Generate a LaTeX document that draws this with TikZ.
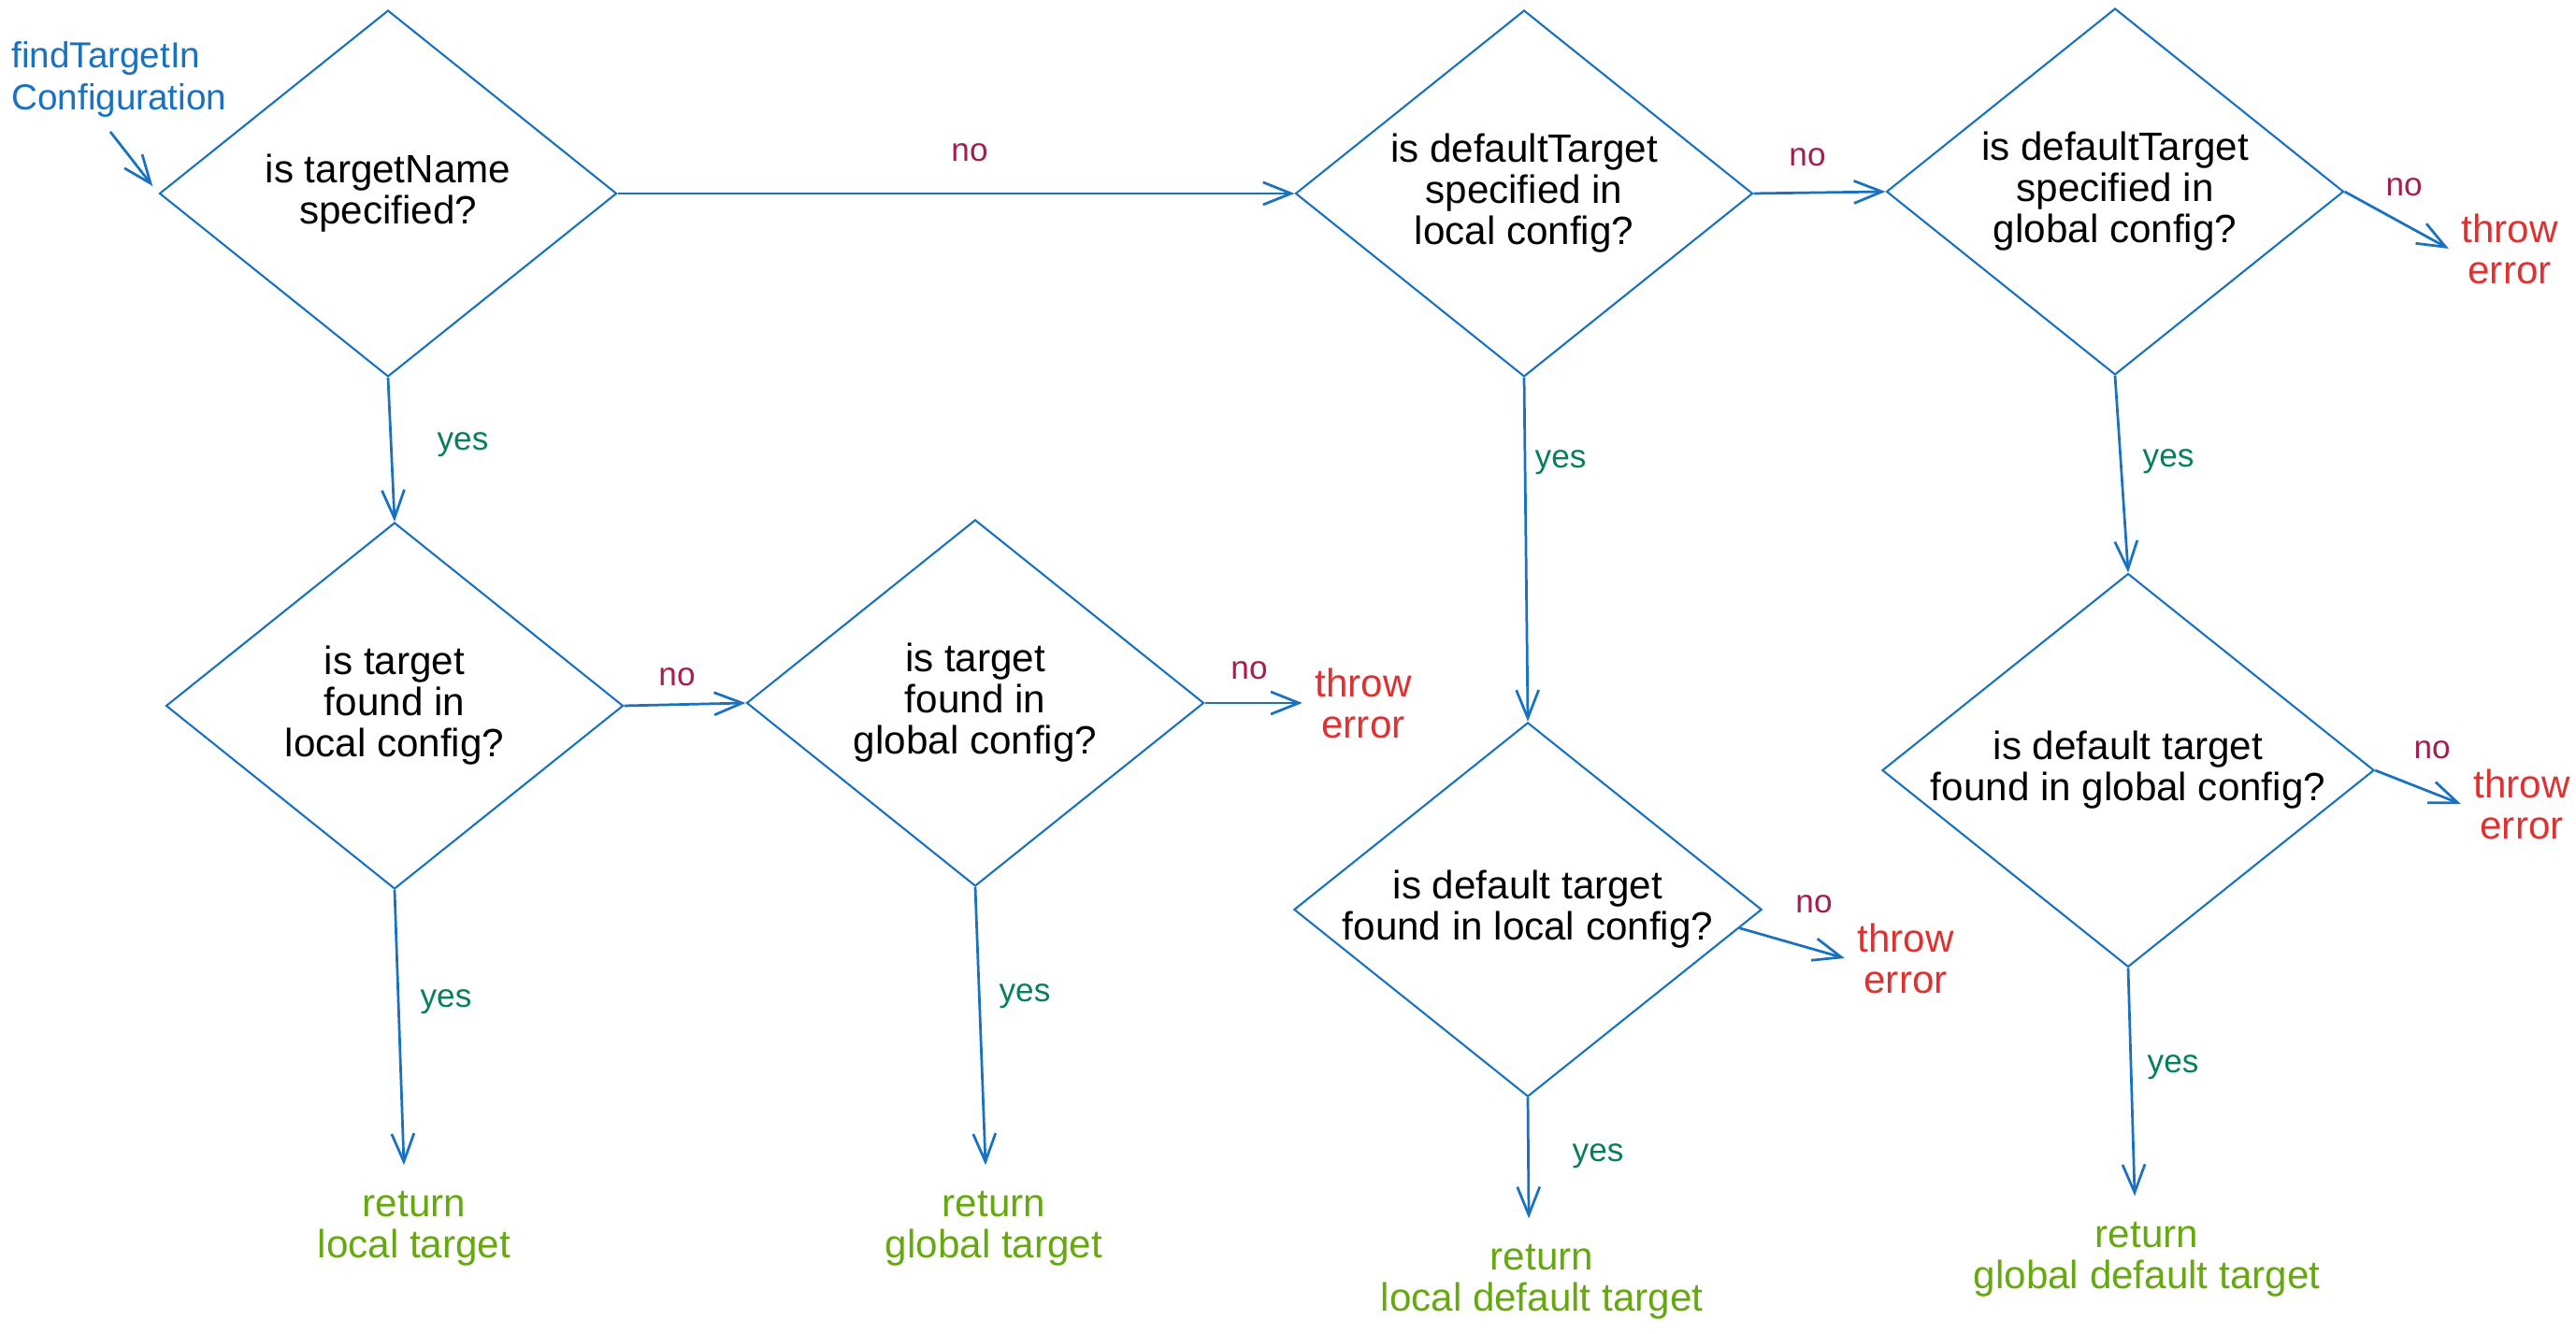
\documentclass[tikz,border=0pt]{standalone}
\usepackage{fontspec}
\setmainfont{Liberation Sans}
\usepackage{tikz}
\usetikzlibrary{arrows.meta}
\usetikzlibrary{shapes.geometric}
\definecolor{flowblue}{HTML}{1971C2}
\definecolor{nored}{HTML}{A61E4D}
\definecolor{errred}{HTML}{E03131}
\definecolor{yesgreen}{HTML}{087F5B}
\definecolor{retgreen}{HTML}{66A80F}

\begin{document}
\begin{tikzpicture}
		[line width=0.78pt,
		> = {Straight Barb[length=3mm,width=2.4mm]},
		decision/.style = {diamond, draw=flowblue, line width=0.6pt, aspect=1.25,
			minimum width=4.89cm, minimum height=3.92cm, inner sep=0pt,
			align=center, font=\fontsize{12}{12.5}\selectfont},
		nolbl/.style = {text=nored, font=\fontsize{10}{12}\selectfont},
		yeslbl/.style = {text=yesgreen, font=\fontsize{10}{12}\selectfont},
		errlbl/.style = {text=errred, align=center, inner sep=3.5pt, font=\fontsize{12}{12.5}\selectfont},
		retlbl/.style = {text=retgreen, align=center, inner sep=7.5pt, font=\fontsize{12}{12.5}\selectfont},
		flow/.style = {->, draw=flowblue}
		]
		\useasboundingbox (0,0) rectangle (27.55,14.27);

		% entry
		\node (start) [anchor=west, inner sep=0pt, align=left, text=flowblue,
			font=\fontsize{11}{12.8}\selectfont] at (0.11,13.42) {findTargetIn\\Configuration};
		\coordinate (s0) at (1.18,12.86);

		% decisions
		\node (D1) [decision] at (4.15,12.20) {is targetName\\specified?};
		\node (D2) [decision] at (4.22,6.72) {is target\\found in\\local config?};
		\node (D3) [decision] at (10.43,6.75) {is target\\found in\\global config?};
		\node (D4) [decision] at (16.30,12.20) {is defaultTarget\\specified in\\local config?};
		\node (D5) [decision] at (22.62,12.22) {is defaultTarget\\specified in\\global config?};
		\node (D6) [decision] at (16.34,4.54) {is default target\\found in local config?};
		\node (D7) [decision] at (22.76,6.03) {is default target\\found in global config?};

		% results
		\node (R1) [retlbl] at (4.43,1.13) {return\\local target};
		\node (R2) [retlbl] at (10.63,1.13) {return\\global target};
		\node (R3) [retlbl] at (16.49,0.56) {return\\local default target};
		\node (R4) [retlbl] at (22.96,0.80) {return\\global default target};

		\node (E1) [errlbl] at (14.58,6.75) {throw\\error};
		\node (E2) [errlbl] at (20.38,4.02) {throw\\error};
		\node (E3) [errlbl] at (26.84,11.61) {throw\\error};
		\node (E4) [errlbl] at (26.97,5.67) {throw\\error};

		% connectors
		\draw[flow, shorten >=1mm] (s0) -- (D1.west);
		\draw[flow] (D1.east) -- (D4.west);
		\draw[flow] (D1.south) -- (D2.north);
		\draw[flow] (D2.east) -- (D3.west);
		\draw[flow] (D2.south) -- ([xshift=-1.1mm]R1.north);
		\draw[flow] (D3.south) -- ([xshift=-0.9mm]R2.north);
		\draw[flow] (D3.east) -- (E1.west);
		\draw[flow] (D4.east) -- (D5.west);
		\draw[flow] (D4.south) -- (D6.north);
		\draw[flow] (D6.-5) -- (E2.west);
		\draw[flow] (D6.south) -- ([xshift=-1.4mm]R3.north);
		\draw[flow] (D5.east) -- (E3.west);
		\draw[flow] (D5.south) -- (D7.north);
		\draw[flow] (D7.east) -- (E4.west);
		\draw[flow] (D7.south) -- ([xshift=-1.3mm]R4.north);

		% labels
		\node (n1) [nolbl] at (10.37,12.64) {no};
		\node (n2) [nolbl] at (19.33,12.59) {no};
		\node (n3) [nolbl] at (25.71,12.27) {no};
		\node (n4) [nolbl] at (7.24,7.03) {no};
		\node (n5) [nolbl] at (13.36,7.10) {no};
		\node (n6) [nolbl] at (19.40,4.60) {no};
		\node (n7) [nolbl] at (26.01,6.25) {no};

		\node (y1) [yeslbl] at (4.95,9.51) {yes};
		\node (y2) [yeslbl] at (4.77,3.55) {yes};
		\node (y3) [yeslbl] at (10.96,3.61) {yes};
		\node (y4) [yeslbl] at (16.69,9.32) {yes};
		\node (y5) [yeslbl] at (23.19,9.33) {yes};
		\node (y6) [yeslbl] at (17.09,1.90) {yes};
		\node (y7) [yeslbl] at (23.24,2.85) {yes};
	\end{tikzpicture}
\end{document}
